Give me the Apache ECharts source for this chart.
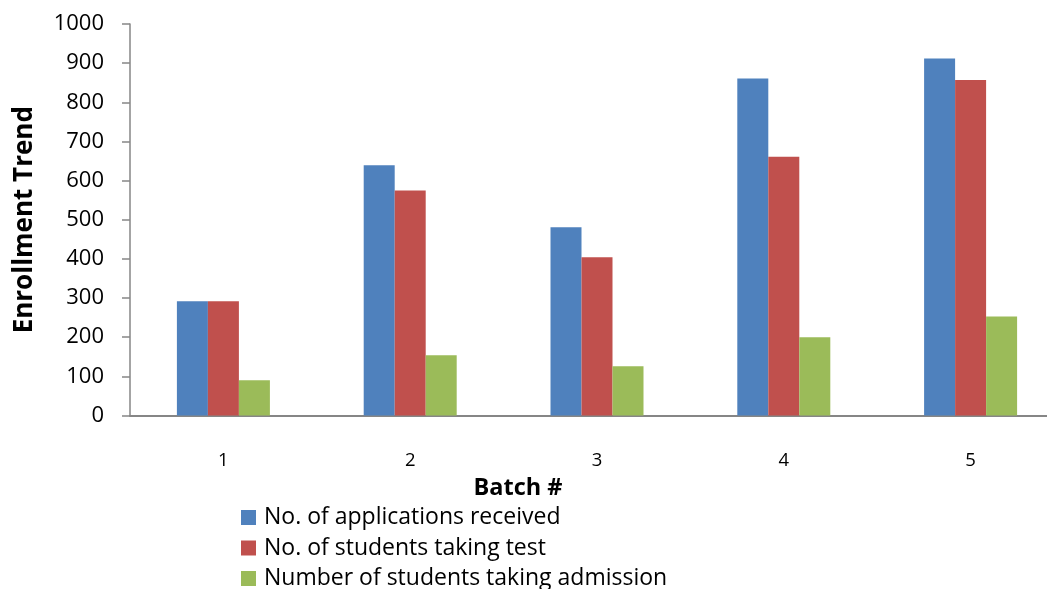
<!DOCTYPE html>
<html>
<head>
<meta charset="utf-8">
<script src="https://cdn.jsdelivr.net/npm/echarts@6/dist/echarts.min.js"></script>
<style>html,body{margin:0;padding:0;background:#fff;}#c{width:1047px;height:589px;}</style>
</head>
<body>
<div id="c"></div>
<script>
const categories = ['1', '2', '3', '4', '5'];
const applications = [292, 639, 481, 861, 912];
const testTakers = [292, 575, 404, 661, 857];
const admissions = [90, 154, 126, 200, 253];
const yTicks = [0, 100, 200, 300, 400, 500, 600, 700, 800, 900, 1000];

const chart = echarts.init(document.getElementById('c'));
const font = 'Open Sans';
chart.setOption({
  animation: false,
  backgroundColor: '#ffffff',
  grid: { left: 130, top: 24, right: -17, bottom: 173.5, containLabel: false, outerBoundsMode: 'none' },
  legend: {
    orient: 'vertical',
    left: 241,
    top: 506,
    height: 120,
    padding: 0,
    itemGap: 7.5,
    itemWidth: 15,
    itemHeight: 15,
    icon: 'rect',
    textStyle: { fontFamily: font, fontSize: 23, color: '#000', padding: [0, 0, 0, 3] },
    data: ['No. of applications received', 'No. of students taking test', 'Number of students taking admission']
  },
  graphic: [{
    type: 'text',
    style: { text: 'Batch #', fontFamily: font, fontSize: 23.5, fontWeight: 'bold', fill: '#000', textAlign: 'center', textVerticalAlign: 'middle' },
    x: 518, y: 488
  }],
  xAxis: {
    type: 'category',
    data: categories,
    axisLine: { lineStyle: { color: '#868686', width: 2 } },
    axisTick: { show: false },
    axisLabel: { fontFamily: font, fontSize: 18.5, color: '#000', margin: 36 }
  },
  yAxis: {
    type: 'value',
    min: yTicks[0],
    max: yTicks[yTicks.length - 1],
    interval: 100,
    name: 'Enrollment Trend',
    nameLocation: 'middle',
    nameGap: 92,
    nameTextStyle: { fontFamily: font, fontSize: 26, fontWeight: 'bold', color: '#000' },
    axisLine: { show: true, lineStyle: { color: '#868686', width: 1.5 } },
    axisTick: { show: true, length: 8, lineStyle: { color: '#868686', width: 1.5 } },
    axisLabel: { fontFamily: font, fontSize: 22, color: '#000', margin: 26, formatter: v => String(v) },
    splitLine: { show: false }
  },
  series: [
    { name: 'No. of applications received', type: 'bar', data: applications, barWidth: 31, barGap: '0%', itemStyle: { color: '#4F81BD' } },
    { name: 'No. of students taking test', type: 'bar', data: testTakers, barWidth: 31, barGap: '0%', itemStyle: { color: '#C0504D' } },
    { name: 'Number of students taking admission', type: 'bar', data: admissions, barWidth: 31, barGap: '0%', itemStyle: { color: '#9BBB59' } }
  ]
});
</script>
</body>
</html>
